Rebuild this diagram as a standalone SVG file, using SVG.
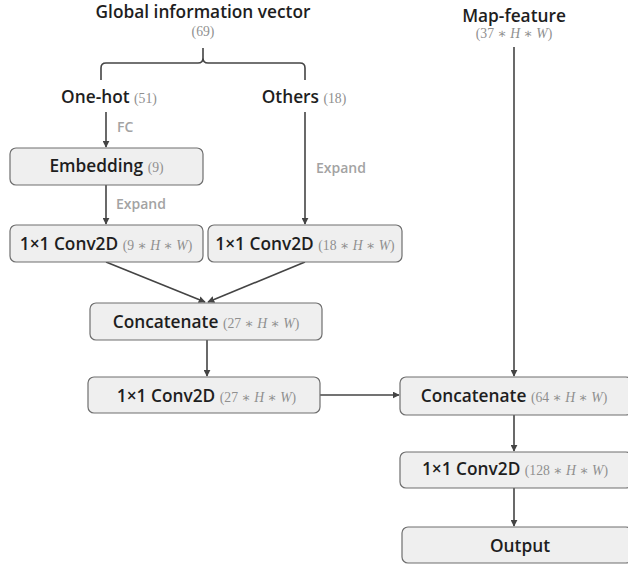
<svg xmlns="http://www.w3.org/2000/svg" width="628" height="565" viewBox="0 0 628 565">
<style>
.box{fill:#efefef;stroke:#6e6e6e;stroke-width:1.2}
.lb{font-family:"Open Sans","Noto Sans",sans-serif;font-weight:600;font-size:17.3px;fill:#1e1e1e}
.m{font-family:"Liberation Serif","DejaVu Serif",serif;font-weight:400;font-size:13.7px;fill:#8f8f8f}
.i{font-style:italic}
.g{font-family:"Open Sans","Noto Sans",sans-serif;font-weight:600;font-size:14px;fill:#a3a3a3}
.c{fill:none;stroke:#444;stroke-width:1.6}
</style>
<defs>
<marker id="ah" viewBox="0 0 10 10" refX="9" refY="5" markerWidth="7" markerHeight="7" orient="auto" markerUnits="userSpaceOnUse">
<path d="M0,0 L10,5 L0,10 z" fill="#444"/>
</marker>
</defs>
<g id="connectors">
<path class="c" d="M101,80 V68 Q101,63 106,63 H198 Q203,63 203,58 V48 M203,58 Q203,63 208,63 H300 Q305,63 305,68 V80"/>
<path class="c" d="M106,112 V147" marker-end="url(#ah)"/>
<path class="c" d="M106,185 V224" marker-end="url(#ah)"/>
<path class="c" d="M305,112 V224" marker-end="url(#ah)"/>
<path class="c" d="M106,262 L205,302" marker-end="url(#ah)"/>
<path class="c" d="M305,262 L208,302" marker-end="url(#ah)"/>
<path class="c" d="M207,340 V376" marker-end="url(#ah)"/>
<path class="c" d="M320,395 H399" marker-end="url(#ah)"/>
<path class="c" d="M514,47 V376" marker-end="url(#ah)"/>
<path class="c" d="M514,415 V451" marker-end="url(#ah)"/>
<path class="c" d="M514,488 V526" marker-end="url(#ah)"/>
<text class="g" x="117" y="132">FC</text>
<text class="g" x="116" y="209">Expand</text>
<text class="g" x="316" y="173">Expand</text>
</g>
<g id="global">
<text class="lb" x="203" y="18" text-anchor="middle">Global information vector</text>
<text class="m" x="203" y="36" text-anchor="middle">(69)</text>
</g>
<g id="onehot">
<text x="109" y="103" text-anchor="middle"><tspan class="lb">One-hot </tspan><tspan class="m">(51)</tspan></text>
</g>
<g id="others">
<text x="304" y="103" text-anchor="middle"><tspan class="lb">Others </tspan><tspan class="m">(18)</tspan></text>
</g>
<g id="mapfeature">
<text class="lb" x="514" y="22" text-anchor="middle">Map-feature</text>
<text class="m" x="514" y="38" text-anchor="middle">(37 ∗ <tspan class="i">H</tspan> ∗ <tspan class="i">W</tspan>)</text>
</g>
<g id="embedding">
<rect class="box" x="10" y="148" width="193" height="37" rx="6"/>
<text x="106.5" y="172" text-anchor="middle"><tspan class="lb">Embedding </tspan><tspan class="m">(9)</tspan></text>
</g>
<g id="conv9">
<rect class="box" x="10" y="225" width="193" height="37" rx="6"/>
<text x="106" y="250" text-anchor="middle"><tspan class="lb">1×1 Conv2D </tspan><tspan class="m">(9 ∗ <tspan class="i">H</tspan> ∗ <tspan class="i">W</tspan>)</tspan></text>
</g>
<g id="conv18">
<rect class="box" x="208" y="225" width="194" height="37" rx="6"/>
<text x="305" y="250" text-anchor="middle"><tspan class="lb">1×1 Conv2D </tspan><tspan class="m">(18 ∗ <tspan class="i">H</tspan> ∗ <tspan class="i">W</tspan>)</tspan></text>
</g>
<g id="concat27">
<rect class="box" x="90" y="303" width="232" height="37" rx="6"/>
<text x="206" y="328" text-anchor="middle"><tspan class="lb">Concatenate </tspan><tspan class="m">(27 ∗ <tspan class="i">H</tspan> ∗ <tspan class="i">W</tspan>)</tspan></text>
</g>
<g id="conv27">
<rect class="box" x="88" y="377" width="232" height="36" rx="6"/>
<text x="206.5" y="402" text-anchor="middle"><tspan class="lb">1×1 Conv2D </tspan><tspan class="m">(27 ∗ <tspan class="i">H</tspan> ∗ <tspan class="i">W</tspan>)</tspan></text>
</g>
<g id="concat64">
<rect class="box" x="400" y="377" width="232" height="38" rx="6"/>
<text x="514" y="402" text-anchor="middle"><tspan class="lb">Concatenate </tspan><tspan class="m">(64 ∗ <tspan class="i">H</tspan> ∗ <tspan class="i">W</tspan>)</tspan></text>
</g>
<g id="conv128">
<rect class="box" x="400" y="452" width="232" height="36" rx="6"/>
<text x="515" y="475" text-anchor="middle"><tspan class="lb">1×1 Conv2D </tspan><tspan class="m">(128 ∗ <tspan class="i">H</tspan> ∗ <tspan class="i">W</tspan>)</tspan></text>
</g>
<g id="output">
<rect class="box" x="402" y="527" width="230" height="36" rx="6"/>
<text class="lb" x="520" y="552" text-anchor="middle">Output</text>
</g>
</svg>
